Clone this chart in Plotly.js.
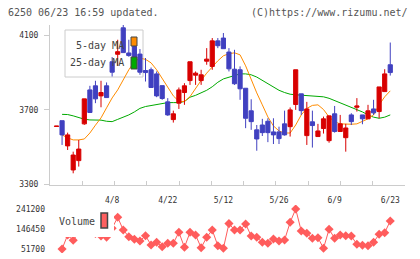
<!DOCTYPE html>
<html><head><meta charset="utf-8">
<script src="https://cdn.plot.ly/plotly-3.0.1.min.js"></script>
<style>html,body{margin:0;padding:0;background:#fff;}#chart{width:420px;height:259px;}</style>
</head><body><div id="chart"></div>
<script>
// ---- data ----
const tickIdx = [10, 20, 30, 40, 50, 60];
const tickLabels = ['4/8', '4/22', '5/12', '5/26', '6/9', '6/23'];
const priceTicks = [3300, 3700, 4100];
const volTicks = [51700, 146450, 241200];

const openP = [3611,3642,3507,3378,3428,3625,3807,3829,3775,3829,
  3958,3998,4140,4005,4040,3999,3911,3915,3893,3830,
  3743,3648,3736,3793,3857,3886,3857,3961,3933,4070,
  4085,4010,3918,3915,3816,3695,3593,3619,3639,3582,
  3582,3625,3610,3729,3786,3562,3636,3557,3600,3535,
  3679,3584,3551,3673,3714,3673,3652,3705,3691,3798,3942];
const highP = [3613,3642,3578,3476,3539,3759,3829,3856,3856,3847,
  3983,4076,4156,4076,4070,4026,3978,3927,3906,3830,
  3763,3696,3820,3843,3958,3906,3915,4031,4085,4085,
  4112,4031,4022,3933,3816,3757,3619,3652,3655,3655,
  3610,3696,3713,3915,3786,3743,3696,3625,3664,3668,
  3721,3673,3625,3682,3763,3673,3727,3754,3823,3918,4061];
const lowP = [3611,3512,3485,3360,3396,3620,3686,3736,3714,3766,
  3879,3936,4007,3985,3965,3888,3852,3820,3768,3754,
  3668,3632,3705,3727,3834,3834,3834,3942,3915,4031,
  4028,3906,3834,3754,3602,3593,3481,3560,3527,3517,
  3517,3562,3557,3700,3673,3512,3498,3557,3573,3524,
  3578,3584,3476,3619,3691,3623,3652,3673,3655,3798,3884];
const closeP = [3613,3566,3566,3458,3490,3759,3686,3759,3793,3766,
  3902,4012,4007,3991,3975,3902,3900,3820,3775,3761,
  3673,3679,3807,3829,3958,3897,3888,3972,4070,4044,
  4028,3920,3840,3813,3655,3637,3544,3578,3578,3566,
  3546,3566,3700,3915,3696,3705,3616,3587,3652,3668,
  3584,3625,3603,3637,3721,3652,3695,3684,3823,3893,3900];
const ma5 = [null,3566,3550,3539,3539,3544,3576,3618,3657,3711,3764,
  3807,3861,3915,3958,3977,3971,3952,3915,3866,3818,
  3775,3746,3745,3771,3817,3858,3897,3931,3963,3990,
  4001,4006,3995,3936,3861,3791,3727,3662,3614,3587,
  3576,3576,3619,3673,3708,3724,3727,3702,3662,3636,
  3625,3623,3623,3625,3638,3652,3673,3727,3770,3802];
const ma25 = [null,3676,3675,3668,3657,3650,3646,3646,3645,3639,3637,
  3649,3660,3673,3689,3708,3718,3723,3730,3736,3739,
  3739,3739,3745,3768,3778,3792,3805,3824,3848,3866,
  3875,3888,3893,3893,3888,3876,3859,3843,3822,3805,
  3793,3784,3781,3778,3776,3774,3771,3770,3762,3750,
  3738,3725,3715,3704,3689,3673,3661,3655,3661,3673];
const volume = [null,51700,118000,92900,130000,180000,160000,125000,113000,108000,
  150000,202000,141700,110000,97700,89600,114700,70600,83400,62600,
  78700,78700,130800,59700,130800,118000,57800,107100,141700,67300,
  55000,172000,141700,141700,170100,113300,107100,83400,78700,99100,
  89600,94300,178200,241200,137000,126100,102400,105200,55000,145000,
  102400,118000,114700,113300,74000,69200,67300,83400,121300,128900,184400];

// ---- layout helpers ----
const W = 420, H = 259;
const px = x => x / W, py = y => 1 - y / H;
const idx = openP.map((_, i) => i);
const xRange = [-1.17, 62.65];
const nMarks = 11;
const markVals = Array.from({length: nMarks + 1}, (_, k) => xRange[0] + (xRange[1] - xRange[0]) * k / nMarks);
const FONT = '"DejaVu Sans Mono", monospace';
const RED = '#d80000', BLUE = '#4040c0', ORANGE = '#ff8c00', GREEN = '#00aa00', VOL = '#ff5c5c';
const AX = '#cccccc';

const traces = [
  {x: idx, y: ma25, type: 'scatter', mode: 'lines', line: {color: GREEN, width: 1}, xaxis: 'x', yaxis: 'y', hoverinfo: 'skip'},
  {x: idx, y: ma5, type: 'scatter', mode: 'lines', line: {color: ORANGE, width: 1}, xaxis: 'x', yaxis: 'y', hoverinfo: 'skip'},
  {x: idx, open: openP, high: highP, low: lowP, close: closeP, type: 'candlestick',
   xaxis: 'x2', yaxis: 'y3', whiskerwidth: 0,
   increasing: {line: {color: RED, width: 1}, fillcolor: RED},
   decreasing: {line: {color: BLUE, width: 1}, fillcolor: BLUE}},
  {x: idx, y: volume, type: 'scatter', mode: 'lines+markers', xaxis: 'x', yaxis: 'y2',
   line: {color: VOL, width: 1}, marker: {symbol: 'diamond', size: 7, color: VOL}, connectgaps: false}
];

const baseX = {range: xRange, showgrid: false, zeroline: false, fixedrange: true};
const layout = {
  width: W, height: H, margin: {l: 0, r: 0, t: 0, b: 0},
  paper_bgcolor: '#ffffff', plot_bgcolor: 'rgba(0,0,0,0)', showlegend: false,
  boxgap: 0.25, boxgroupgap: 0,
  font: {family: FONT, size: 8, color: '#333'},
  title: {text: '6250 06/23 16:59 updated.', xref: 'container', yref: 'container',
          x: px(8), xanchor: 'left', y: py(12.5), yanchor: 'middle',
          font: {family: FONT, size: 10, color: '#555'}},
  xaxis: Object.assign({}, baseX, {domain: [px(50), px(405)], anchor: 'y', showline: true, linecolor: AX, linewidth: 1,
          tickmode: 'array', tickvals: markVals, ticks: 'inside', ticklen: 4, tickcolor: AX, showticklabels: false}),
  xaxis4: Object.assign({}, baseX, {overlaying: 'x', anchor: 'y', showline: false,
          tickmode: 'array', tickvals: markVals, ticks: 'outside', ticklen: 5, tickcolor: AX, showticklabels: false}),
  xaxis2: Object.assign({}, baseX, {overlaying: 'x', anchor: 'y', showline: false, rangeslider: {visible: false},
          tickmode: 'array', tickvals: tickIdx, ticktext: tickLabels, ticks: 'outside', ticklen: 8,
          tickcolor: 'rgba(0,0,0,0)', tickfont: {family: FONT, size: 8, color: '#333'}}),
  yaxis: {domain: [py(184.5), py(25)], range: [3300, 4155], anchor: 'x', showline: true, linecolor: AX,
          showgrid: false, zeroline: false, fixedrange: true, tickmode: 'array', tickvals: priceTicks,
          ticktext: priceTicks.map(String), ticks: 'outside', ticklen: 5, tickcolor: AX, ticklabelstandoff: 4,
          tickfont: {family: FONT, size: 8, color: '#333'}},
  yaxis4: {overlaying: 'y', anchor: 'x', range: [3300, 4155], showline: false, showgrid: false, zeroline: false,
          tickmode: 'array', tickvals: priceTicks, ticks: 'inside', ticklen: 3, tickcolor: AX, showticklabels: false},
  yaxis3: {overlaying: 'y', anchor: 'x2', range: [3300, 4155], visible: false, fixedrange: true},
  yaxis2: {domain: [py(253), py(205)], range: [32750, 260150], anchor: 'x', showline: false, showgrid: false,
          zeroline: false, fixedrange: true, tickmode: 'array', tickvals: volTicks, ticktext: volTicks.map(String),
          ticks: '', ticklabelstandoff: 4, tickfont: {family: FONT, size: 8, color: '#333'}},
  shapes: [
    {type: 'rect', xref: 'paper', yref: 'paper', x0: px(65), x1: px(143), y0: py(77), y1: py(30),
     line: {color: AX, width: 1}, fillcolor: 'rgba(0,0,0,0)', layer: 'below'},
    {type: 'rect', xref: 'paper', yref: 'paper', x0: px(131), x1: px(137), y0: py(46), y1: py(37),
     line: {color: '#444', width: 1}, fillcolor: ORANGE, layer: 'above'},
    {type: 'rect', xref: 'paper', yref: 'paper', x0: px(131), x1: px(137), y0: py(69), y1: py(57),
     line: {color: '#444', width: 1}, fillcolor: GREEN, layer: 'above'},
    {type: 'rect', xref: 'paper', yref: 'paper', x0: px(55), x1: px(114), y0: py(237), y1: py(211),
     line: {width: 0}, fillcolor: '#ffffff', layer: 'above'},
    {type: 'rect', xref: 'paper', yref: 'paper', x0: px(101), x1: px(107.5), y0: py(228), y1: py(213),
     line: {color: '#444', width: 1.5}, fillcolor: '#ff6060', layer: 'above'}
  ],
  annotations: [
    {text: '(C)https://www.rizumu.net/', xref: 'paper', yref: 'paper', x: px(410), xanchor: 'right',
     y: py(12.5), yanchor: 'middle', showarrow: false, font: {family: FONT, size: 10, color: '#555'}},
    {text: '5-day MA', xref: 'paper', yref: 'paper', x: px(126), xanchor: 'right',
     y: py(46), yanchor: 'middle', showarrow: false, font: {family: FONT, size: 10, color: '#444'}},
    {text: '25-day MA', xref: 'paper', yref: 'paper', x: px(126), xanchor: 'right',
     y: py(62.5), yanchor: 'middle', showarrow: false, font: {family: FONT, size: 10, color: '#444'}},
    {text: 'Volume', xref: 'paper', yref: 'paper', x: px(57), xanchor: 'left',
     y: py(221.5), yanchor: 'middle', showarrow: false, font: {family: FONT, size: 10, color: '#444'}}
  ]
};

Plotly.newPlot('chart', traces, layout, {staticPlot: true, displayModeBar: false});
</script>
</body></html>
